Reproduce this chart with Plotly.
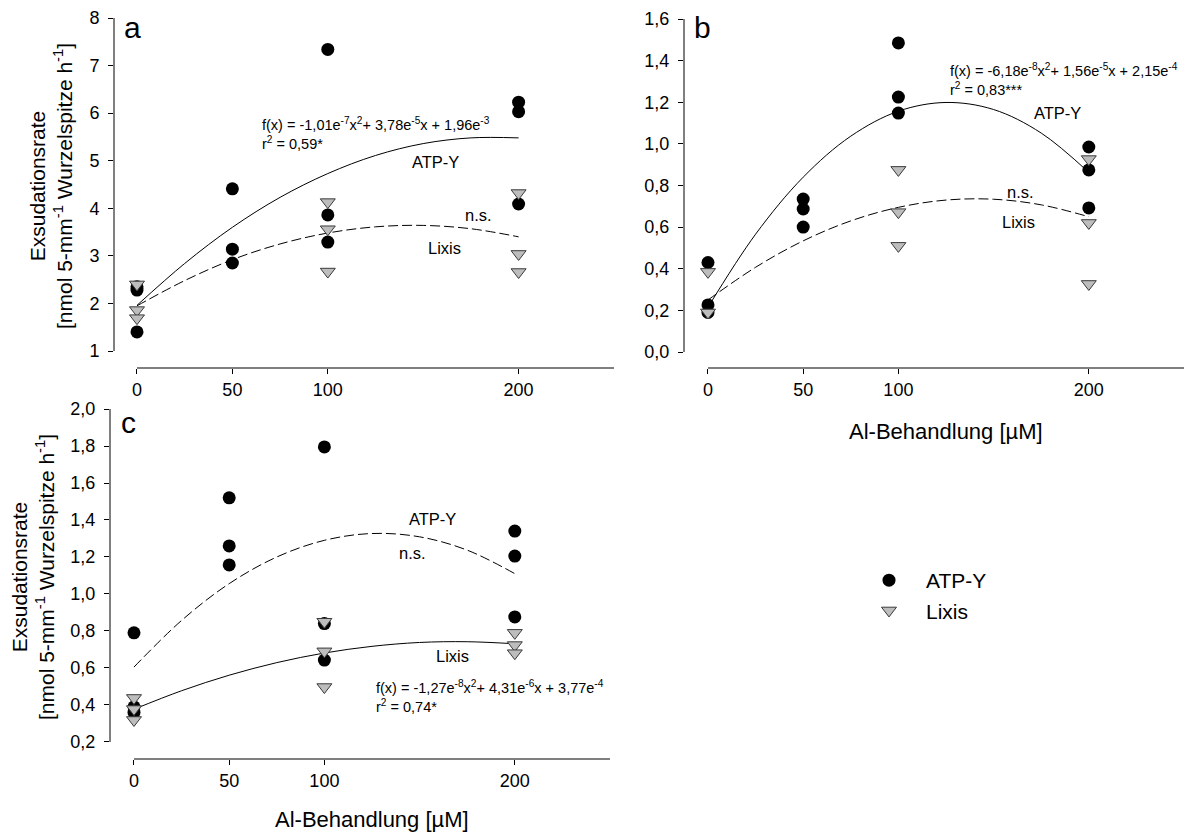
import plotly.graph_objects as go

# ---------------- data ----------------
doses = [0, 50, 100, 200]
dose_ticks = ["0", "50", "100", "200"]

# Panel a
a_atp_x = [0, 0, 0, 50, 50, 50, 100, 100, 100, 200, 200, 200]
a_atp_y = [2.35, 2.28, 1.40, 4.41, 3.14, 2.85, 7.34, 3.86, 3.29, 6.23, 6.03, 4.09]
a_lix_x = [0, 0, 0, 100, 100, 100, 200, 200, 200]
a_lix_y = [2.40, 1.86, 1.69, 4.13, 3.56, 2.67, 4.32, 3.04, 2.66]

# Panel b
b_atp_x = [0, 0, 0, 50, 50, 50, 100, 100, 100, 200, 200, 200]
b_atp_y = [0.43, 0.226, 0.19, 0.735, 0.687, 0.60, 1.485, 1.225, 1.148, 0.985, 0.875, 0.692]
b_lix_x = [0, 0, 100, 100, 100, 200, 200, 200]
b_lix_y = [0.385, 0.19, 0.875, 0.672, 0.51, 0.927, 0.62, 0.327]

# Panel c
c_atp_x = [0, 0, 0, 50, 50, 50, 100, 100, 100, 200, 200, 200]
c_atp_y = [0.79, 0.39, 0.36, 1.52, 1.26, 1.157, 1.795, 0.84, 0.643, 1.34, 1.205, 0.876]
c_lix_x = [0, 0, 0, 100, 100, 100, 200, 200, 200]
c_lix_y = [0.438, 0.378, 0.319, 0.85, 0.69, 0.497, 0.79, 0.724, 0.68]

# Regression curves
fit_x = [0, 25, 50, 75, 100, 125, 150, 175, 200]
a_atp_fit = [1.96, 2.84, 3.60, 4.23, 4.73, 5.11, 5.36, 5.48, 5.48]
a_lix_fit = [1.95, 2.48, 2.92, 3.25, 3.48, 3.61, 3.64, 3.57, 3.40]
b_atp_fit = [0.215, 0.566, 0.840, 1.037, 1.157, 1.199, 1.165, 1.052, 0.863]
b_lix_fit = [0.25, 0.407, 0.534, 0.630, 0.695, 0.730, 0.734, 0.707, 0.65]
c_atp_fit = [0.605, 0.857, 1.056, 1.200, 1.290, 1.327, 1.309, 1.237, 1.110]
c_lix_fit = [0.377, 0.477, 0.561, 0.629, 0.681, 0.717, 0.738, 0.742, 0.731]

# ---------------- styling ----------------
W, H = 1184, 834
FONT = "Liberation Sans, Arial, Helvetica, sans-serif"
GREY = "#bdbdbd"
Y_TOP = 10          # observed vertical offset of the rendered page
Y_SPAN = H - Y_TOP


def px(x):
    return x / W


def py(y):
    return 1 - (y - Y_TOP) / Y_SPAN


fig = go.Figure()

circle = dict(symbol="circle", size=13, color="black", line=dict(color="black", width=0))
tri = dict(symbol="triangle-down", size=13, color=GREY, line=dict(color="#3a3a3a", width=1))
solid = dict(color="black", width=1, shape="spline")
dashed = dict(color="black", width=1, shape="spline", dash="10px,4px")

panels = [
    ("x", "y", a_atp_x, a_atp_y, a_lix_x, a_lix_y, a_atp_fit, a_lix_fit, solid, dashed, True),
    ("x2", "y2", b_atp_x, b_atp_y, b_lix_x, b_lix_y, b_atp_fit, b_lix_fit, solid, dashed, False),
    ("x3", "y3", c_atp_x, c_atp_y, c_lix_x, c_lix_y, c_atp_fit, c_lix_fit, dashed, solid, False),
]

for xa, ya, ax_, ay_, lx_, ly_, fa, fl, sa, sl, leg in panels:
    fig.add_trace(go.Scatter(x=fit_x, y=fa, mode="lines", line=sa, xaxis=xa, yaxis=ya,
                             showlegend=False, hoverinfo="skip"))
    fig.add_trace(go.Scatter(x=fit_x, y=fl, mode="lines", line=sl, xaxis=xa, yaxis=ya,
                             showlegend=False, hoverinfo="skip"))
    fig.add_trace(go.Scatter(x=ax_, y=ay_, mode="markers", marker=circle, name="ATP-Y",
                             xaxis=xa, yaxis=ya, showlegend=leg))
    fig.add_trace(go.Scatter(x=lx_, y=ly_, mode="markers", marker=tri, name="Lixis",
                             xaxis=xa, yaxis=ya, showlegend=leg))

tickfont = dict(family=FONT, size=18, color="black")
common = dict(showgrid=False, zeroline=False, showline=False, ticks="outside", ticklen=5,
              tickwidth=1, tickcolor="black", tickfont=tickfont)

xcommon = dict(common, tickvals=doses, ticktext=dose_ticks)
ycommon = dict(common, ticklabelstandoff=5)

fig.update_layout(
    width=W, height=H, margin=dict(l=0, r=0, t=0, b=0),
    paper_bgcolor="white", plot_bgcolor="white",
    separators=", ",
    font=dict(family=FONT, color="black"),
    # panel a
    xaxis=dict(xcommon, domain=[px(114), px(614)], range=[-12.05, 250], anchor="y"),
    yaxis=dict(ycommon, domain=[py(368), py(18)], range=[0.6426, 8], tickvals=[1, 2, 3, 4, 5, 6, 7, 8],
               anchor="x"),
    # panel b
    xaxis2=dict(xcommon, domain=[px(684), 1.0], range=[-12.6, 250], anchor="y2"),
    yaxis2=dict(ycommon, domain=[py(368), py(19)], range=[-0.0769, 1.6],
                tickvals=[0, 0.2, 0.4, 0.6, 0.8, 1.0, 1.2, 1.4, 1.6], tickformat=".1f",
                anchor="x2"),
    # panel c
    xaxis3=dict(xcommon, domain=[px(110), px(610)], range=[-12.6, 250], anchor="y3"),
    yaxis3=dict(ycommon, domain=[py(759), py(409)], range=[0.108, 2.0],
                tickvals=[0.2, 0.4, 0.6, 0.8, 1.0, 1.2, 1.4, 1.6, 1.8, 2.0], tickformat=".1f",
                anchor="x3"),
    legend=dict(x=px(852), y=py(560), xanchor="left", yanchor="top",
                font=dict(family=FONT, size=21, color="black"), bgcolor="rgba(0,0,0,0)",
                itemwidth=64, tracegroupgap=0),
)

# detached axis lines (SigmaPlot style)
axis_lines = [
    ("x", "y", 1, 8), ("x2", "y2", 0, 1.6), ("x3", "y3", 0.2, 2.0),
]
for xa, ya, y0, y1 in axis_lines:
    fig.add_shape(type="line", xref=f"{xa} domain", yref=ya, x0=0, x1=0, y0=y0, y1=y1,
                  line=dict(color="black", width=1))
    fig.add_shape(type="line", xref=xa, yref=f"{ya} domain", x0=0, x1=250, y0=0, y1=0,
                  line=dict(color="black", width=1))

ann = []


def add_text(x, y, text, size, xanchor="center", angle=0):
    ann.append(dict(x=px(x), y=py(y), xref="paper", yref="paper", text=text, showarrow=False,
                    xanchor=xanchor, yanchor="middle", textangle=angle,
                    font=dict(family=FONT, size=size, color="black")))


# panel letters
add_text(132, 27, "a", 30)
add_text(702, 27, "b", 30)
add_text(128, 422, "c", 30)

# axis titles
ytitle = "Exsudationsrate<br>[nmol 5-mm<sup>-1</sup> Wurzelspitze h<sup>-1</sup>]"
add_text(51, 186, ytitle, 21, angle=-90)
add_text(33, 577, ytitle, 21, angle=-90)
add_text(946, 431, "Al-Behandlung [µM]", 22)
add_text(372, 819, "Al-Behandlung [µM]", 22)

# panel a annotations
add_text(260, 124, "f(x) = -1,01e<sup>-7</sup>x<sup>2</sup>+ 3,78e<sup>-5</sup>x + 1,96e<sup>-3</sup>", 14.5, "left")
add_text(260, 143, "r<sup>2</sup> = 0,59*", 14.5, "left")
add_text(435, 162, "ATP-Y", 16.5)
add_text(478, 215, "n.s.", 16.5)
add_text(444, 248, "Lixis", 16.5)

# panel b annotations
add_text(948, 70, "f(x) = -6,18e<sup>-8</sup>x<sup>2</sup>+ 1,56e<sup>-5</sup>x + 2,15e<sup>-4</sup>", 14.5, "left")
add_text(948, 89, "r<sup>2</sup> = 0,83***", 14.5, "left")
add_text(1057, 113, "ATP-Y", 16.5)
add_text(1020, 192, "n.s.", 16.5)
add_text(1018, 222, "Lixis", 16.5)

# panel c annotations
add_text(432, 519, "ATP-Y", 16.5)
add_text(412, 553, "n.s.", 16.5)
add_text(452, 656, "Lixis", 16.5)
add_text(374, 687, "f(x) = -1,27e<sup>-8</sup>x<sup>2</sup>+ 4,31e<sup>-6</sup>x + 3,77e<sup>-4</sup>", 14.5, "left")
add_text(374, 706, "r<sup>2</sup> = 0,74*", 14.5, "left")

fig.update_layout(annotations=ann)

fig.write_html(
    "out.html",
    config={"displayModeBar": False},
    post_script=(
        "document.body.style.margin='0';"
        "document.body.style.overflow='hidden';"
        "var gd=document.getElementById('{plot_id}');"
        "gd.style.position='fixed';gd.style.top='0px';gd.style.left='0px';"
    ),
)
